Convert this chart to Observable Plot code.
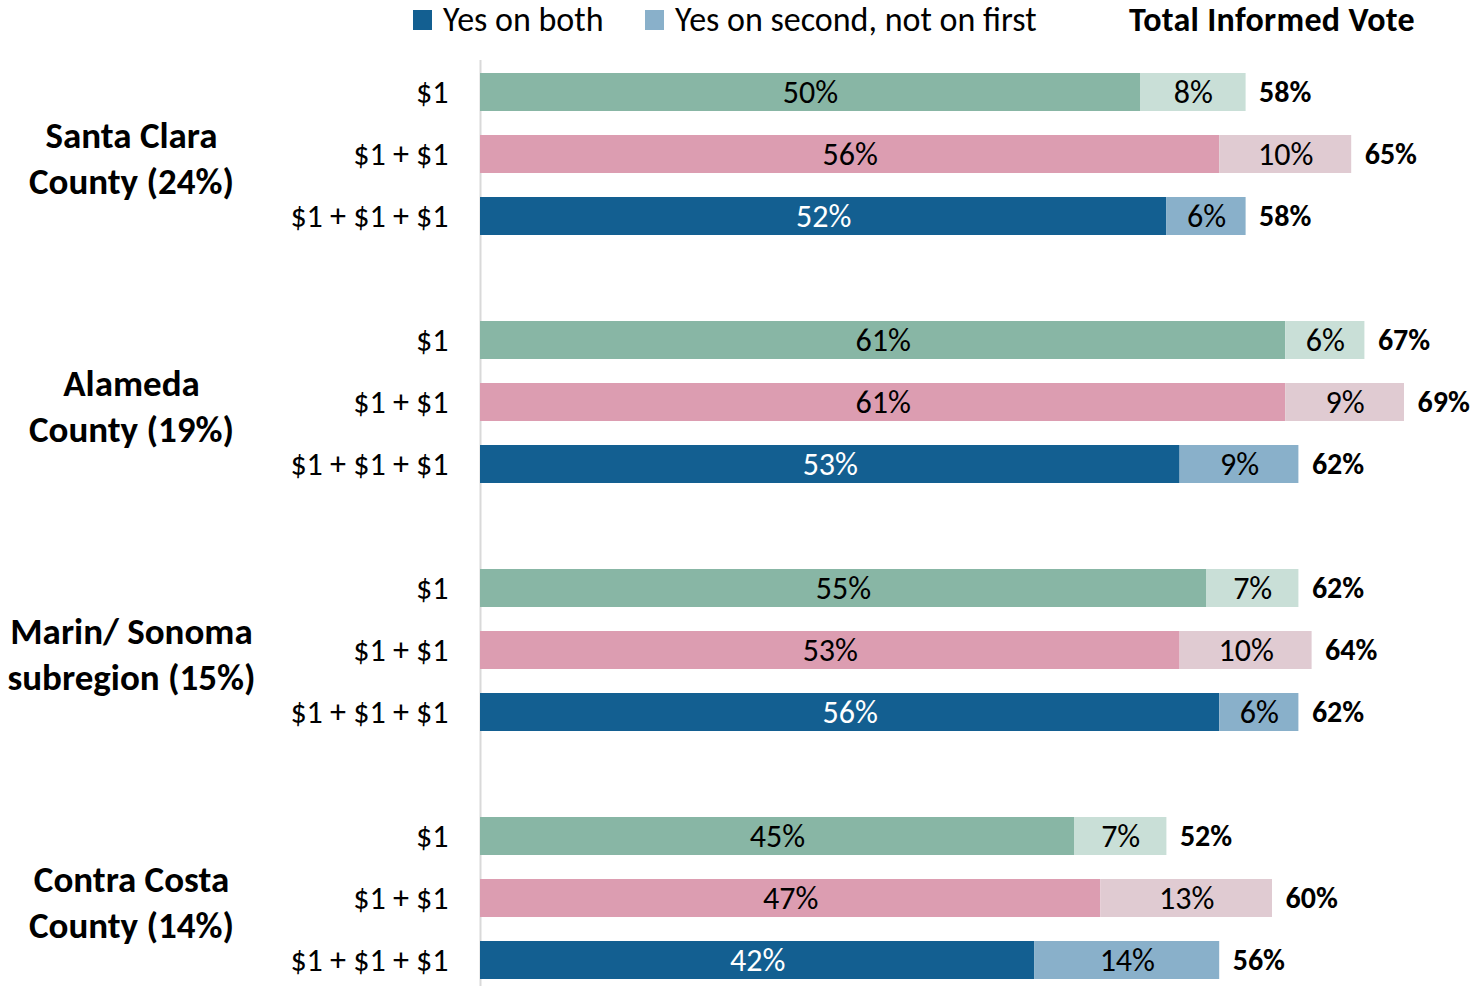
<!DOCTYPE html>
<html>
<head>
<meta charset="utf-8">
<script src="https://cdn.jsdelivr.net/npm/d3@7"></script>
<script src="https://cdn.jsdelivr.net/npm/@observablehq/plot@0.6"></script>
<style>
  html, body { margin: 0; padding: 0; background: #fff; overflow: hidden; }
  body { width: 1470px; height: 986px; position: relative; font-family: Carlito, Calibri, Lato, sans-serif; }
  #legend { position: relative; height: 40px; font-size: 34px; color: #000; }
  #legend .item { position: absolute; top: 0; height: 40px; line-height: 40px; white-space: nowrap; }
  #legend .sw { display: inline-block; width: 19px; height: 20px; vertical-align: middle; margin-right: 11px; position: relative; top: -3px; }
  #legend .total { font-weight: bold; }
  #chart svg { display: block; }
</style>
</head>
<body>
<div id="legend"></div>
<div id="chart"></div>
<script>
// ---- data ----
const groups = ["Santa Clara\nCounty (24%)", "Alameda\nCounty (19%)", "Marin/ Sonoma\nsubregion (15%)", "Contra Costa\nCounty (14%)"];
const options = ["$1", "$1 + $1", "$1 + $1 + $1"];
const yesOnBoth = [50, 56, 52, 61, 61, 53, 55, 53, 56, 45, 47, 42];
const yesOnSecond = [8, 10, 6, 6, 9, 9, 7, 10, 6, 7, 13, 14];
const totalVote = [58, 65, 58, 67, 69, 62, 62, 64, 62, 52, 60, 56];
const legendLabels = ["Yes on both", "Yes on second, not on first", "Total Informed Vote"];
const darkColors = ["#88B6A5", "#DC9DB1", "#135F91"];
const lightColors = ["#C9DFD7", "#E0CBD2", "#89B0CA"];
const darkText = ["#000", "#000", "#fff"];

// ---- table ----
const rows = [];
groups.forEach((g, gi) => {
  options.forEach((o, oi) => {
    const i = gi * 3 + oi;
    rows.push({key: `${gi}|${oi}`, group: g, gi, option: o, oi,
      both: yesOnBoth[i], second: yesOnSecond[i], total: totalVote[i]});
  });
});
const domain = [];
groups.forEach((g, gi) => {
  options.forEach((o, oi) => domain.push(`${gi}|${oi}`));
  if (gi < groups.length - 1) domain.push(`gap${gi}`);
});
const middles = rows.filter(r => r.oi === 1);

// ---- legend ----
const legend = document.getElementById("legend");
legend.innerHTML = `
  <div class="item" style="left:413px"><span class="sw" style="background:${darkColors[2]}"></span>${legendLabels[0]}</div>
  <div class="item" style="left:645px"><span class="sw" style="background:${lightColors[2]}"></span>${legendLabels[1]}</div>
  <div class="item total" style="left:1129px; letter-spacing:0.3px">${legendLabels[2]}</div>`;

// ---- chart ----
const font = "Carlito, Calibri, Lato, sans-serif";
const barInset = 12;
const chart = Plot.plot({
  width: 1470,
  height: 952,
  marginLeft: 480,
  marginRight: 0,
  marginTop: 20,
  marginBottom: 0,
  style: {fontFamily: font, background: "#fff"},
  x: {domain: [0, 75], axis: null},
  y: {domain, axis: null, padding: 0},
  color: {type: "identity"},
  marks: [
    Plot.ruleX([0], {stroke: "#D9D9D9", strokeWidth: 2}),
    Plot.barX(rows, {y: "key", x1: 0, x2: "both", fill: d => darkColors[d.oi], insetTop: barInset, insetBottom: barInset}),
    Plot.barX(rows, {y: "key", x1: "both", x2: d => d.both + d.second, fill: d => lightColors[d.oi], insetTop: barInset, insetBottom: barInset}),
    Plot.text(rows, {y: "key", x: d => d.both / 2, text: d => `${d.both}%`, fill: d => darkText[d.oi], fontSize: 32}),
    Plot.text(rows, {y: "key", x: d => d.both + d.second / 2, text: d => `${d.second}%`, fill: "#000", fontSize: 32}),
    Plot.text(rows, {y: "key", x: d => d.both + d.second, text: d => `${d.total}%`, dx: 13, textAnchor: "start", fill: "#000", fontSize: 30, fontWeight: "bold"}),
    Plot.text(rows, {y: "key", x: 0, text: "option", dx: -32, textAnchor: "end", fill: "#000", fontSize: 32}),
    Plot.text(middles, {y: "key", x: 0, text: "group", dx: -349, dy: 2, textAnchor: "middle", fill: "#000", fontSize: 37, fontWeight: "bold", lineHeight: 1.22})
  ]
});
document.getElementById("chart").appendChild(chart);
</script>
</body>
</html>
